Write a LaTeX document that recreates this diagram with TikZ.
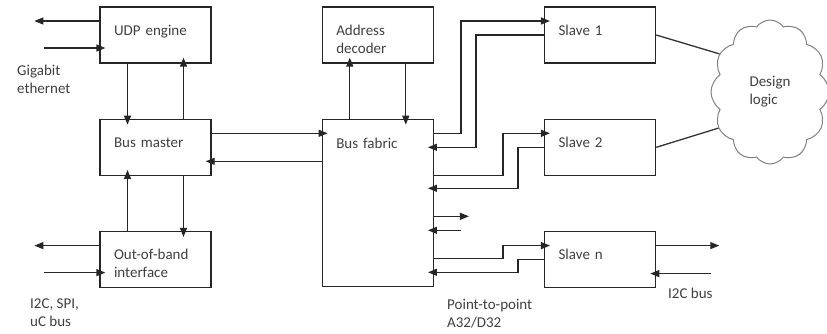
\documentclass[tikz,border=0pt]{standalone}
\usepackage{fontspec}
\setmainfont{Carlito}
\usetikzlibrary{arrows.meta,positioning,shapes.symbols}

\begin{document}
\begin{tikzpicture}[x=1pt, y=-1pt,
  every node/.style={font=\fontsize{15}{18}\selectfont, text=black!75},
  blk/.style={draw=black!85, line width=1.3pt, minimum width=111pt, minimum height=56pt, text width=83pt, inner xsep=14pt, align=left, text height=6pt, text depth=6pt},
  arr/.style={-{Triangle[length=9pt,width=7pt]}, line width=1.3pt, black!85},
  arrin/.style={arr, shorten >=-6pt},
  note/.style={anchor=north west, inner sep=0pt, align=left},
]
  \useasboundingbox (0,0) rectangle (827,333);

  \node[blk] (udp) at (155.5,35) {UDP engine};
  \node[blk, below=55pt of udp] (bm) {Bus master};
  \node[blk, below=55pt of bm] (oob) {Out-of-band\\interface};
  \node[blk, right=110pt of udp] (addr) {Address\\decoder};
  \node[blk, below=55pt of addr, minimum height=167pt, text height=10pt, text depth=119pt] (bf) {Bus fabric};
  \node[blk, right=110pt of addr] (s1) {Slave 1};
  \node[blk, below=55pt of s1] (s2) {Slave 2};
  \node[blk, below=55pt of s2] (sn) {Slave n};
  \node[cloud, draw=black!50, line width=1pt, cloud puffs=12, cloud puff arc=110, aspect=0.8, minimum width=118pt, minimum height=144pt, align=left] (logic) at (770,92) {Design\\logic};

  \node[note] (gbe) at (17,65) {Gigabit\\ethernet};
  \node[note] (ext) at (30,299) {I2C, SPI,\\uC bus};
  \node[note] (p2p) at (447,299) {Point-to-point\\A32/D32};
  \node[note] (i2c) at (668,288) {I2C bus};

  \draw[arr] ([yshift=14pt]udp.west) -- ++(-65,0);
  \draw[arrin] ([yshift=-13pt]udp.west) ++(-55,0) -- ([yshift=-13pt]udp.west);
  \draw[arr] ([yshift=14pt]oob.west) -- ++(-65,0);
  \draw[arrin] ([yshift=-13pt]oob.west) ++(-55,0) -- ([yshift=-13pt]oob.west);

  \draw[arrin] ([xshift=-28pt]udp.south) -- ([xshift=-28pt]bm.north);
  \draw[arrin] ([xshift=28pt]bm.north) -- ([xshift=28pt]udp.south);
  \draw[arrin] ([xshift=-28pt]oob.north) -- ([xshift=-28pt]bm.south);
  \draw[arrin] ([xshift=28pt]bm.south) -- ([xshift=28pt]oob.north);
  \draw[arrin] ([xshift=-28pt]bf.north) -- ([xshift=-28pt]addr.south);
  \draw[arrin] ([xshift=28pt]addr.south) -- ([xshift=28pt]bf.north);

  \draw[arrin] ([yshift=14pt]bm.east) -- ([yshift=69.5pt]bf.west);
  \draw[arrin] ([yshift=41.5pt]bf.west) -- ([yshift=-14pt]bm.east);

  \draw[arrin] ([yshift=69.5pt]bf.east) -- ++(27,0) |- ([yshift=14pt]s1.west);
  \draw[arrin] (s1.west) -- ++(-68,0) |- ([yshift=55.5pt]bf.east);
  \draw[arrin] ([yshift=27.5pt]bf.east) -- ++(69,0) |- ([yshift=14pt]s2.west);
  \draw[arrin] (s2.west) -- ++(-26,0) |- ([yshift=14.5pt]bf.east);
  \draw[arr] ([yshift=-13.5pt]bf.east) -- ++(35,0);
  \draw[arrin] ([yshift=-27.5pt]bf.east) ++(27,0) -- ([yshift=-27.5pt]bf.east);
  \draw[arrin] ([yshift=-55.5pt]bf.east) -- ++(69,0) |- ([yshift=14pt]sn.west);
  \draw[arrin] (sn.west) -- ++(-26,0) |- ([yshift=-69.5pt]bf.east);

  \draw[arr] ([yshift=14pt]sn.east) -- ++(63,0);
  \draw[arrin] ([yshift=-14pt]sn.east) ++(55,0) -- ([yshift=-14pt]sn.east);

  \draw[line width=1.3pt, black!80] (s1.east) -- (logic.143);
  \draw[line width=1.3pt, black!80] (s2.east) -- (logic.215);
\end{tikzpicture}
\end{document}
